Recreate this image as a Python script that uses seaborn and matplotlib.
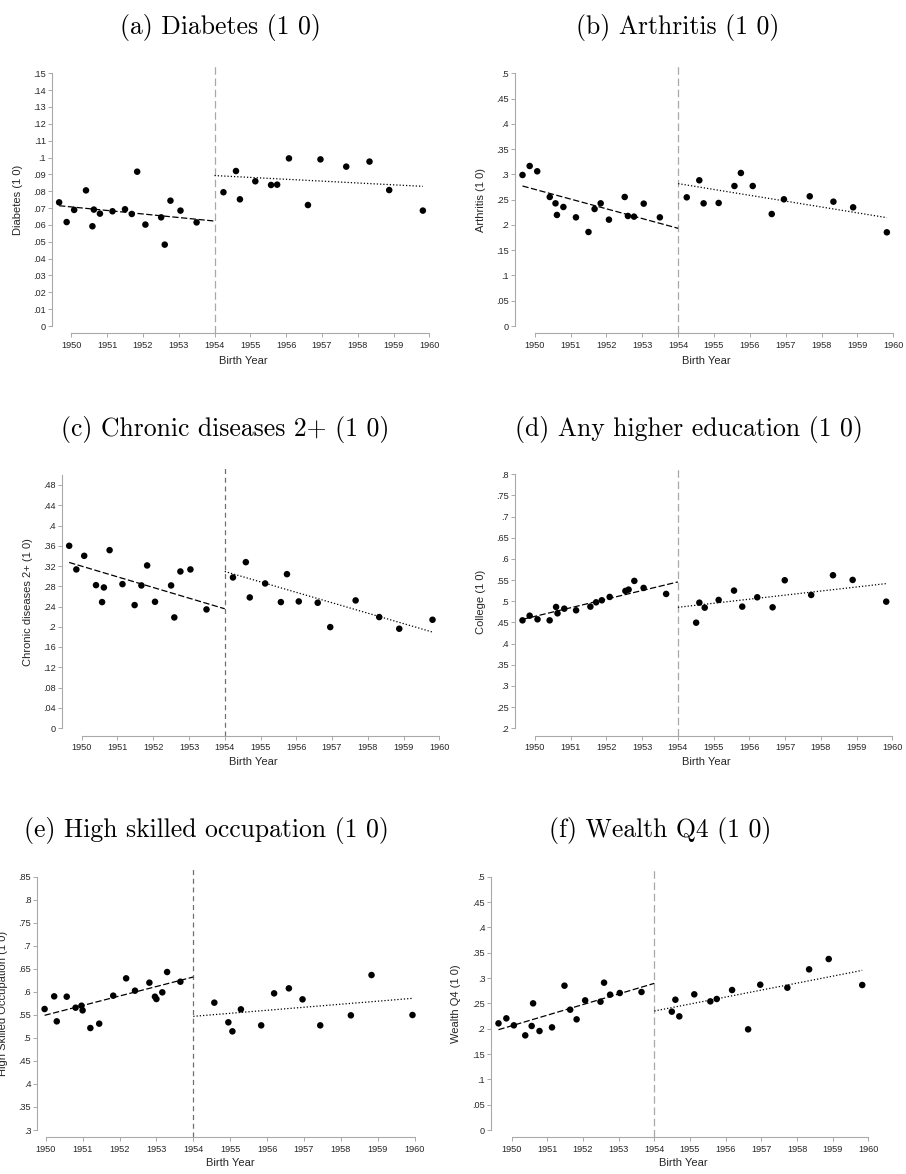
import numpy as np
import pandas as pd
import matplotlib
matplotlib.use("Agg")
import matplotlib.pyplot as plt
import seaborn as sns

CUTOFF = 1954
x_ticks = [1950, 1951, 1952, 1953, 1954, 1955, 1956, 1957, 1958, 1959, 1960]

# ---------------- (a) Diabetes ----------------
a_year_pre = [1949.66, 1949.87, 1950.08, 1950.41, 1950.59, 1950.63, 1950.80, 1951.15, 1951.50,
              1951.69, 1951.84, 1952.07, 1952.51, 1952.61, 1952.77, 1953.05, 1953.50]
a_val_pre = [0.0734, 0.0617, 0.0689, 0.0805, 0.0592, 0.0691, 0.0667, 0.0681, 0.0693,
             0.0665, 0.0916, 0.0602, 0.0645, 0.0483, 0.0744, 0.0685, 0.0615]
a_year_post = [1954.25, 1954.60, 1954.71, 1955.14, 1955.58, 1955.75, 1956.08, 1956.61, 1956.96,
               1957.68, 1958.33, 1958.88, 1959.82]
a_val_post = [0.0794, 0.0920, 0.0752, 0.0859, 0.0837, 0.0839, 0.0995, 0.0718, 0.0989,
              0.0946, 0.0976, 0.0807, 0.0685]
a_fit_pre = [0.0714, 0.0623]
a_fit_post = [0.0893, 0.0829]
a_yticks = [0, .01, .02, .03, .04, .05, .06, .07, .08, .09, .10, .11, .12, .13, .14, .15]

# ---------------- (b) Arthritis ----------------
b_year_pre = [1949.66, 1949.86, 1950.07, 1950.42, 1950.58, 1950.62, 1950.80, 1951.15, 1951.50,
              1951.67, 1951.84, 1952.07, 1952.51, 1952.60, 1952.77, 1953.04, 1953.49]
b_val_pre = [0.2988, 0.3166, 0.3061, 0.2553, 0.2427, 0.2197, 0.2355, 0.2150, 0.1860,
             0.2315, 0.2427, 0.2104, 0.2553, 0.2177, 0.2164, 0.2421, 0.2150]
b_year_post = [1954.24, 1954.59, 1954.71, 1955.13, 1955.57, 1955.75, 1956.08, 1956.61, 1956.95,
               1957.67, 1958.33, 1958.88, 1959.82]
b_val_post = [0.2546, 0.2883, 0.2427, 0.2434, 0.2770, 0.3028, 0.2770, 0.2216, 0.2507,
              0.2566, 0.2460, 0.2348, 0.1854]
b_fit_pre = [0.2770, 0.1933]
b_fit_post = [0.2817, 0.2144]
b_yticks = [0, .05, .10, .15, .20, .25, .30, .35, .40, .45, .50]

# ---------------- (c) Chronic diseases 2+ ----------------
c_year_pre = [1949.65, 1949.85, 1950.07, 1950.40, 1950.57, 1950.62, 1950.78, 1951.14, 1951.48,
              1951.67, 1951.83, 1952.05, 1952.50, 1952.59, 1952.76, 1953.04, 1953.49]
c_val_pre = [0.3599, 0.3132, 0.3401, 0.2822, 0.2487, 0.2776, 0.3513, 0.2842, 0.2428,
             0.2816, 0.3211, 0.2493, 0.2816, 0.2184, 0.3092, 0.3132, 0.2342]
c_year_post = [1954.23, 1954.59, 1954.70, 1955.13, 1955.57, 1955.74, 1956.07, 1956.60, 1956.95,
               1957.66, 1958.32, 1958.88, 1959.81]
c_val_post = [0.2974, 0.3276, 0.2579, 0.2855, 0.2487, 0.3039, 0.2500, 0.2474, 0.1993,
              0.2520, 0.2191, 0.1961, 0.2138]
c_fit_pre = [0.3270, 0.2355]
c_fit_post = [0.3092, 0.1895]
c_yticks = [0, .04, .08, .12, .16, .20, .24, .28, .32, .36, .40, .44, .48]

# ---------------- (d) Any higher education ----------------
d_year_pre = [1949.65, 1949.85, 1950.07, 1950.41, 1950.59, 1950.63, 1950.82, 1951.15, 1951.55,
              1951.71, 1951.87, 1952.09, 1952.53, 1952.62, 1952.78, 1953.04, 1953.67]
d_val_pre = [0.4550, 0.4660, 0.4574, 0.4550, 0.4866, 0.4716, 0.4826, 0.4787, 0.4874,
             0.4976, 0.5024, 0.5103, 0.5245, 0.5276, 0.5482, 0.5316, 0.5174]
d_year_post = [1954.51, 1954.60, 1954.75, 1955.14, 1955.57, 1955.80, 1956.22, 1956.65, 1956.99,
               1957.73, 1958.34, 1958.89, 1959.83]
d_val_post = [0.4495, 0.4968, 0.4850, 0.5032, 0.5253, 0.4874, 0.5095, 0.4858, 0.5497,
              0.5150, 0.5616, 0.5505, 0.4992]
d_fit_pre = [0.4574, 0.5458]
d_fit_post = [0.4858, 0.5418]
d_yticks = [.20, .25, .30, .35, .40, .45, .50, .55, .60, .65, .70, .75, .80]

# ---------------- (e) High skilled occupation ----------------
e_year_pre = [1949.97, 1950.23, 1950.30, 1950.57, 1950.81, 1950.97, 1951.00, 1951.21, 1951.45,
              1951.83, 1952.18, 1952.42, 1952.81, 1952.96, 1953.00, 1953.16, 1953.29, 1953.65]
e_val_pre = [0.5627, 0.5902, 0.5359, 0.5895, 0.5656, 0.5699, 0.5598, 0.5214, 0.5309,
             0.5917, 0.6293, 0.6025, 0.6199, 0.5895, 0.5844, 0.5989, 0.6430, 0.6220]
e_year_post = [1954.57, 1954.95, 1955.06, 1955.29, 1955.84, 1956.19, 1956.59, 1956.96, 1957.44,
               1958.27, 1958.83, 1959.94]
e_val_post = [0.5765, 0.5338, 0.5142, 0.5620, 0.5272, 0.5967, 0.6076, 0.5837, 0.5272,
              0.5490, 0.6365, 0.5497]
e_fit_pre = [0.5490, 0.6322]
e_fit_post = [0.5468, 0.5859]
e_yticks = [.30, .35, .40, .45, .50, .55, .60, .65, .70, .75, .80, .85]

# ---------------- (f) Wealth Q4 ----------------
f_year_pre = [1949.63, 1949.85, 1950.06, 1950.38, 1950.56, 1950.60, 1950.78, 1951.13, 1951.48,
              1951.64, 1951.82, 1952.06, 1952.49, 1952.59, 1952.76, 1953.03, 1953.64]
f_val_pre = [0.2105, 0.2204, 0.2066, 0.1868, 0.2053, 0.2500, 0.1954, 0.2026, 0.2849,
             0.2375, 0.2184, 0.2559, 0.2533, 0.2908, 0.2671, 0.2704, 0.2724]
f_year_post = [1954.49, 1954.59, 1954.70, 1955.12, 1955.57, 1955.75, 1956.18, 1956.63, 1956.97,
               1957.73, 1958.34, 1958.89, 1959.83]
f_val_post = [0.2336, 0.2572, 0.2243, 0.2678, 0.2539, 0.2586, 0.2763, 0.1987, 0.2868,
              0.2809, 0.3171, 0.3375, 0.2862]
f_fit_pre = [0.1980, 0.2895]
f_fit_post = [0.2349, 0.3151]
f_yticks = [0, .05, .10, .15, .20, .25, .30, .35, .40, .45, .50]

titles = ["(a) Diabetes (1 0)", "(b) Arthritis (1 0)", "(c) Chronic diseases 2+ (1 0)",
          "(d) Any higher education (1 0)", "(e) High skilled occupation (1 0)", "(f) Wealth Q4 (1 0)"]
ylabels = ["Diabetes (1 0)", "Arthritis (1 0)", "Chronic diseases 2+ (1 0)",
           "College (1 0)", "High Skilled Occupation (1 0)", "Wealth Q4 (1 0)"]
xlabel = "Birth Year"

# ---------------- layout (pixels) ----------------
W, H = 906, 1174
sns.set_style("ticks")
plt.rcParams["font.family"] = ["Liberation Sans", "DejaVu Sans"]

fig = plt.figure(figsize=(W / 100, H / 100), dpi=100)
fig.patch.set_facecolor("white")

panels = [
    dict(yp=a_year_pre, vp=a_val_pre, yq=a_year_post, vq=a_val_post, fp=a_fit_pre, fq=a_fit_post,
         yt=a_yticks, ytop=.15, box=(52.3, 435.1, 66, 333.3), xref=(71.3, 429.3),
         yref=(0, 326, .15, 73.3), title=(220.8, 34.3), ylab=18.3, xlab=360.7, vcol="#a8a8a8", vdash=(6, 3)),
    dict(yp=b_year_pre, vp=b_val_pre, yq=b_year_post, vq=b_val_post, fp=b_fit_pre, fq=b_fit_post,
         yt=b_yticks, ytop=.5, box=(514.7, 898.9, 66, 333.3), xref=(534.7, 893.3),
         yref=(0, 326, .5, 73.3), title=(677.5, 34.3), ylab=481.3, xlab=360.7, vcol="#a8a8a8", vdash=(6, 3)),
    dict(yp=c_year_pre, vp=c_val_pre, yq=c_year_post, vq=c_val_post, fp=c_fit_pre, fq=c_fit_post,
         yt=c_yticks, ytop=.5, box=(61.7, 445.7, 467.7, 735.7), xref=(81.7, 439.3),
         yref=(0, 728, .48, 485), title=(225.5, 436), ylab=28.3, xlab=762.3, vcol="#707070", vdash=(4, 3)),
    dict(yp=d_year_pre, vp=d_val_pre, yq=d_year_post, vq=d_val_post, fp=d_fit_pre, fq=d_fit_post,
         yt=d_yticks, ytop=.8, box=(514.7, 898.9, 467.7, 735.7), xref=(535.0, 892.3),
         yref=(.2, 728.3, .8, 474.3), title=(689, 436), ylab=481.3, xlab=762.3, vcol="#a8a8a8", vdash=(6, 3)),
    dict(yp=e_year_pre, vp=e_val_pre, yq=e_year_post, vq=e_val_post, fp=e_fit_pre, fq=e_fit_post,
         yt=e_yticks, ytop=.85, box=(37.3, 422.7, 869.3, 1137.3), xref=(45.7, 414.7),
         yref=(.3, 1130, .85, 876.7), title=(206, 836.7), ylab=3.3, xlab=1162.7, vcol="#707070", vdash=(4, 3)),
    dict(yp=f_year_pre, vp=f_val_pre, yq=f_year_post, vq=f_val_post, fp=f_fit_pre, fq=f_fit_post,
         yt=f_yticks, ytop=.5, box=(491.3, 874.7, 869.3, 1137.3), xref=(511.7, 868.3),
         yref=(0, 1130, .5, 876.7), title=(660, 836.7), ylab=456.3, xlab=1162.7, vcol="#a8a8a8", vdash=(6, 3)),
]


def fmt(v):
    if abs(v) < 1e-12:
        return "0"
    s = f"{v:.2f}".rstrip("0").rstrip(".")
    return s[1:] if s.startswith("0") else s


axis_col = "#a9a9a9"
text_col = "#262626"

for i, p in enumerate(panels):
    L, R, T, B = p["box"]
    px0, px1 = p["xref"]
    ppy = (px1 - px0) / 10.0
    xlim = (1950 + (L - px0) / ppy, 1950 + (R - px0) / ppy)
    vlo, pylo, vhi, pyhi = p["yref"]
    ppu = (pylo - pyhi) / (vhi - vlo)
    ylim = (vlo - (B - pylo) / ppu, vlo + (pylo - T) / ppu)

    ax = fig.add_axes([L / W, 1 - B / H, (R - L) / W, (B - T) / H])
    ax.set_facecolor("white")

    pre = pd.DataFrame({"year": p["yp"], "value": p["vp"]})
    post = pd.DataFrame({"year": p["yq"], "value": p["vq"]})
    fit_pre = pd.DataFrame({"year": [min(p["yp"]), CUTOFF], "value": p["fp"]})
    fit_post = pd.DataFrame({"year": [CUTOFF, max(p["yq"])], "value": p["fq"]})

    ax.axvline(CUTOFF, color=p["vcol"], lw=0.9, linestyle=(0, p["vdash"]), zorder=1)
    sns.lineplot(data=fit_pre, x="year", y="value", ax=ax, color="black", lw=0.9,
                 linestyle=(0, (5, 2)), zorder=2)
    sns.lineplot(data=fit_post, x="year", y="value", ax=ax, color="black", lw=0.9,
                 linestyle=(0, (1, 1.6)), zorder=2)
    sns.scatterplot(data=pre, x="year", y="value", ax=ax, color="black", s=22,
                    edgecolor="none", linewidth=0, zorder=3)
    sns.scatterplot(data=post, x="year", y="value", ax=ax, color="black", s=22,
                    edgecolor="none", linewidth=0, zorder=3)

    ax.set_xlim(*xlim)
    ax.set_ylim(*ylim)
    ax.set_xticks(x_ticks)
    ax.set_xticklabels([str(t) for t in x_ticks])
    ax.set_yticks(p["yt"])
    ax.set_yticklabels([fmt(v) for v in p["yt"]])

    for s in ["top", "right"]:
        ax.spines[s].set_visible(False)
    ax.spines["left"].set_bounds(min(p["yt"]), p["ytop"])
    ax.spines["bottom"].set_bounds(1950, 1960)
    for s in ["left", "bottom"]:
        ax.spines[s].set_color(axis_col)
        ax.spines[s].set_linewidth(0.8)
    ax.tick_params(axis="x", direction="out", length=3, width=0.7, color=axis_col,
                   labelsize=6.6, labelcolor=text_col, pad=2.2)
    ax.tick_params(axis="y", direction="out", length=3, width=0.7, color=axis_col,
                   labelsize=6.6, labelcolor=text_col, pad=1.4)

    ax.set_xlabel(xlabel, fontsize=8, color=text_col, va="center")
    ax.xaxis.set_label_coords(0.5, (B - p["xlab"]) / (B - T))
    ax.set_ylabel(ylabels[i], fontsize=8, color=text_col, va="center")
    ax.yaxis.set_label_coords((p["ylab"] - L) / (R - L), 0.5)

    tx, ty = p["title"]
    fig.text(tx / W, 1 - ty / H, titles[i], fontfamily="cmr10", fontsize=18.5,
             ha="center", va="baseline", color="black")

fig.savefig("out.png", dpi=100, facecolor="white")
